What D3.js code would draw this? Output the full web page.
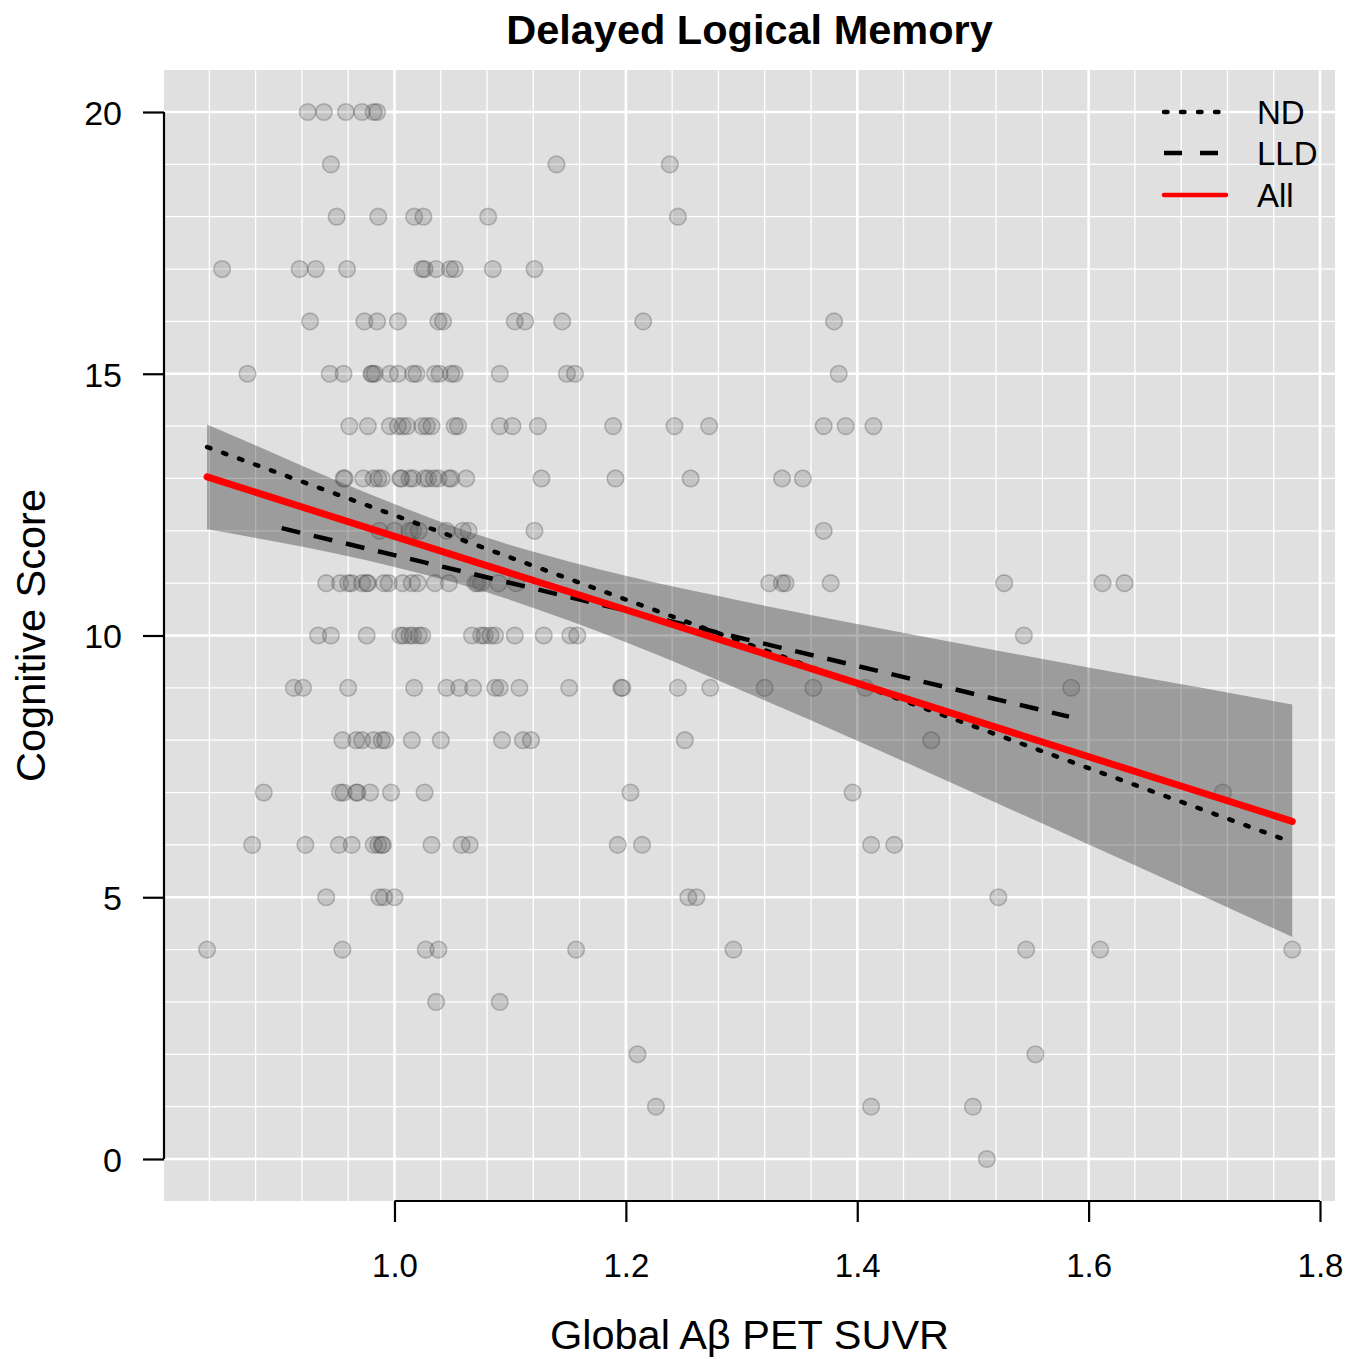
<!DOCTYPE html>
<html>
<head>
<meta charset="utf-8">
<script src="https://cdn.jsdelivr.net/npm/d3@7"></script>
<style>
  html, body { margin: 0; padding: 0; background: #ffffff; }
  svg { display: block; }
  text { font-family: "Liberation Sans", Arial, Helvetica, sans-serif; fill: #000; }
</style>
</head>
<body>
<svg id="chart" width="1363" height="1359"></svg>
<script>
// ---------------- DATA ----------------
const chartTitle = "Delayed Logical Memory";
const xAxisTitle = "Global Aβ PET SUVR";
const yAxisTitle = "Cognitive Score";

const xTickValues = [1.0, 1.2, 1.4, 1.6, 1.8];
const xTickLabels = ["1.0", "1.2", "1.4", "1.6", "1.8"];
const yTickValues = [0, 5, 10, 15, 20];
const yTickLabels = ["0", "5", "10", "15", "20"];

// scatter: one list of SUVR values per cognitive score level
const rowScores = [20, 19, 18, 17, 16, 15, 14, 13, 12, 11, 10, 9, 8, 7, 6, 5, 4, 3, 2, 1, 0];
const rowSUVR = [
  [0.925, 0.939, 0.958, 0.972, 0.982, 0.985],
  [0.945, 1.140, 1.238],
  [0.950, 0.986, 1.017, 1.025, 1.081, 1.245],
  [0.851, 0.918, 0.932, 0.959, 1.024, 1.026, 1.036, 1.048, 1.052, 1.085, 1.121],
  [0.927, 0.974, 0.985, 1.003, 1.038, 1.042, 1.104, 1.113, 1.145, 1.215, 1.380],
  [0.873, 0.944, 0.956, 0.980, 0.981, 0.983, 0.996, 1.003, 1.016, 1.019, 1.035, 1.039, 1.049, 1.052, 1.091, 1.149, 1.156, 1.384],
  [0.961, 0.977, 0.996, 1.003, 1.007, 1.011, 1.024, 1.028, 1.032, 1.052, 1.055, 1.091, 1.102, 1.124, 1.189, 1.242, 1.272, 1.371, 1.390, 1.414],
  [0.956, 0.957, 0.973, 0.982, 0.986, 0.989, 1.005, 1.006, 1.013, 1.016, 1.026, 1.029, 1.034, 1.038, 1.047, 1.049, 1.062, 1.127, 1.191, 1.256, 1.335, 1.353],
  [0.987, 1.000, 1.013, 1.016, 1.021, 1.045, 1.059, 1.064, 1.121, 1.371],
  [0.941, 0.953, 0.960, 0.963, 0.972, 0.976, 0.977, 0.991, 0.995, 1.007, 1.015, 1.020, 1.035, 1.047, 1.070, 1.072, 1.075, 1.090, 1.105, 1.324, 1.335, 1.338, 1.377, 1.527, 1.612, 1.631],
  [0.934, 0.945, 0.976, 1.005, 1.008, 1.013, 1.016, 1.021, 1.024, 1.067, 1.075, 1.078, 1.083, 1.087, 1.104, 1.129, 1.152, 1.158, 1.544],
  [0.913, 0.921, 0.960, 1.017, 1.045, 1.056, 1.068, 1.087, 1.091, 1.108, 1.151, 1.196, 1.197, 1.245, 1.273, 1.320, 1.362, 1.407, 1.585],
  [0.955, 0.967, 0.972, 0.982, 0.989, 0.992, 1.015, 1.040, 1.093, 1.111, 1.118, 1.251, 1.464],
  [0.887, 0.953, 0.956, 0.967, 0.968, 0.979, 0.997, 1.026, 1.204, 1.396, 1.716],
  [0.877, 0.923, 0.952, 0.963, 0.982, 0.986, 0.989, 0.990, 1.032, 1.058, 1.065, 1.193, 1.214, 1.412, 1.432],
  [0.941, 0.987, 0.991, 1.000, 1.254, 1.261, 1.522],
  [0.838, 0.955, 1.027, 1.038, 1.157, 1.293, 1.546, 1.610, 1.776],
  [1.036, 1.091],
  [1.210, 1.554],
  [1.226, 1.412, 1.500],
  [1.512]
];

// confidence band of the "All" fit
const bandX     = [0.838, 0.90, 0.95, 1.00, 1.05, 1.10, 1.15, 1.20, 1.30, 1.40, 1.50, 1.60, 1.70, 1.776];
const bandUpper = [14.03, 13.44, 12.96, 12.51, 12.09, 11.73, 11.42, 11.14, 10.66, 10.22, 9.80, 9.39, 8.99, 8.68];
const bandLower = [12.03, 11.78, 11.56, 11.31, 11.02, 10.68, 10.29, 9.87, 8.95, 7.99, 7.00, 6.01, 5.01, 4.24];

// regression lines
const lineNames = ["ND", "LLD", "All"];
const ndX  = [0.838, 1.776];  const ndY  = [13.60, 6.05];
const lldX = [0.9025, 1.583]; const lldY = [12.05, 8.45];
const allX = [0.838, 1.776];  const allY = [13.03, 6.45];

// ---------------- LAYOUT ----------------
const svg = d3.select("#chart");
const panelL = 164, panelR = 1335, panelT = 70, panelB = 1201;
const FONT = '"Liberation Sans", Arial, Helvetica, sans-serif';

const x = d3.scaleLinear().domain([0.8, 1.8]).range([163.1, 1320]);
const y = d3.scaleLinear().domain([0, 20]).range([1159, 112]);

// panel background
svg.append("rect")
  .attr("x", panelL).attr("y", panelT)
  .attr("width", panelR - panelL).attr("height", panelB - panelT)
  .attr("fill", "#e0e0e0");

// grid
const gGrid = svg.append("g");
const vGrid = d3.range(1, 26).map(k => +(0.8 + 0.04 * k).toFixed(2));
vGrid.forEach(v => {
  const major = Math.abs(v * 5 - Math.round(v * 5)) < 1e-6;
  gGrid.append("line")
    .attr("x1", x(v)).attr("x2", x(v))
    .attr("y1", panelT).attr("y2", panelB)
    .attr("stroke", "#ffffff")
    .attr("stroke-width", major ? 2.6 : 1.3);
});
d3.range(0, 21).forEach(v => {
  const major = v % 5 === 0;
  gGrid.append("line")
    .attr("x1", panelL).attr("x2", panelR)
    .attr("y1", y(v)).attr("y2", y(v))
    .attr("stroke", "#ffffff")
    .attr("stroke-width", major ? 2.6 : 1.3);
});

// confidence band
const bandData = bandX.map((v, i) => ({ x: v, lo: bandLower[i], hi: bandUpper[i] }));
svg.append("path")
  .datum(bandData)
  .attr("d", d3.area().x(d => x(d.x)).y0(d => y(d.lo)).y1(d => y(d.hi)).curve(d3.curveMonotoneX))
  .attr("fill", "#000000")
  .attr("fill-opacity", 0.30);

// points
const pts = [];
rowScores.forEach((s, i) => rowSUVR[i].forEach(v => pts.push({ x: v, y: s })));
svg.append("g").selectAll("circle").data(pts).enter().append("circle")
  .attr("cx", d => x(d.x)).attr("cy", d => y(d.y))
  .attr("r", 8.3)
  .attr("fill", "#5a5a5a").attr("fill-opacity", 0.22)
  .attr("stroke", "#3a3a3a").attr("stroke-opacity", 0.28)
  .attr("stroke-width", 1.6);

// lines
const lineGen = d3.line().x(d => x(d[0])).y(d => y(d[1]));
const styles = {
  ND:  { color: "#000", width: 4.5, dash: "3.5,13.5", cap: "round" },
  LLD: { color: "#000", width: 4.5, dash: "19,14", cap: "butt" },
  All: { color: "#ff0000", width: 7, dash: null, cap: "round" }
};
const lineData = {
  ND: ndX.map((v, i) => [v, ndY[i]]),
  LLD: lldX.map((v, i) => [v, lldY[i]]),
  All: allX.map((v, i) => [v, allY[i]])
};
lineNames.forEach(n => {
  const st = styles[n];
  svg.append("path")
    .attr("d", lineGen(lineData[n]))
    .attr("fill", "none")
    .attr("stroke", st.color)
    .attr("stroke-width", st.width)
    .attr("stroke-linecap", st.cap)
    .attr("stroke-dasharray", st.dash);
});

// axes
const xAxis = d3.axisBottom(x).tickValues(xTickValues)
  .tickFormat((d, i) => xTickLabels[i]).tickSize(21).tickSizeOuter(0);
const gx = svg.append("g").attr("transform", `translate(0,${panelB})`).call(xAxis);
gx.select(".domain").remove();
gx.append("line")
  .attr("x1", x(xTickValues[0])).attr("x2", x(xTickValues[xTickValues.length - 1]))
  .attr("y1", 0).attr("y2", 0)
  .attr("stroke", "#000").attr("stroke-width", 2.2);
gx.selectAll(".tick line").attr("stroke", "#000").attr("stroke-width", 2.2);
gx.selectAll(".tick text").attr("font-size", 33).attr("dy", 0).attr("y", 76)
  .attr("font-family", FONT);

const yAxis = d3.axisLeft(y).tickValues(yTickValues)
  .tickFormat((d, i) => yTickLabels[i]).tickSize(21).tickSizeOuter(0);
const gy = svg.append("g").attr("transform", `translate(${panelL},0)`).call(yAxis);
gy.select(".domain").remove();
gy.append("line")
  .attr("x1", 0).attr("x2", 0)
  .attr("y1", y(yTickValues[0])).attr("y2", y(yTickValues[yTickValues.length - 1]))
  .attr("stroke", "#000").attr("stroke-width", 2.2);
gy.selectAll(".tick line").attr("stroke", "#000").attr("stroke-width", 2.2);
gy.selectAll(".tick text").attr("font-size", 34).attr("x", -42).attr("dy", "0.36em")
  .attr("font-family", FONT);

// titles
svg.append("text")
  .attr("x", (panelL + panelR) / 2).attr("y", 44)
  .attr("text-anchor", "middle")
  .attr("font-size", 41.5).attr("font-weight", "bold")
  .text(chartTitle);

svg.append("text")
  .attr("x", (panelL + panelR) / 2).attr("y", 1349)
  .attr("text-anchor", "middle")
  .attr("font-size", 41.5)
  .text(xAxisTitle);

svg.append("text")
  .attr("transform", `translate(45, ${(panelT + panelB) / 2}) rotate(-90)`)
  .attr("text-anchor", "middle")
  .attr("font-size", 41.5)
  .text(yAxisTitle);

// legend
const legY = [112, 153, 195];
const legend = svg.append("g");
lineNames.forEach((n, i) => {
  const st = styles[n];
  legend.append("line")
    .attr("x1", 1164).attr("x2", 1226)
    .attr("y1", legY[i]).attr("y2", legY[i])
    .attr("stroke", st.color)
    .attr("stroke-width", 4.5)
    .attr("stroke-linecap", st.cap)
    .attr("stroke-dasharray", n === "LLD" ? "18,18" : st.dash);
  legend.append("text")
    .attr("x", 1257).attr("y", legY[i])
    .attr("dy", "0.36em")
    .attr("font-size", 33)
    .text(n);
});
</script>
</body>
</html>
